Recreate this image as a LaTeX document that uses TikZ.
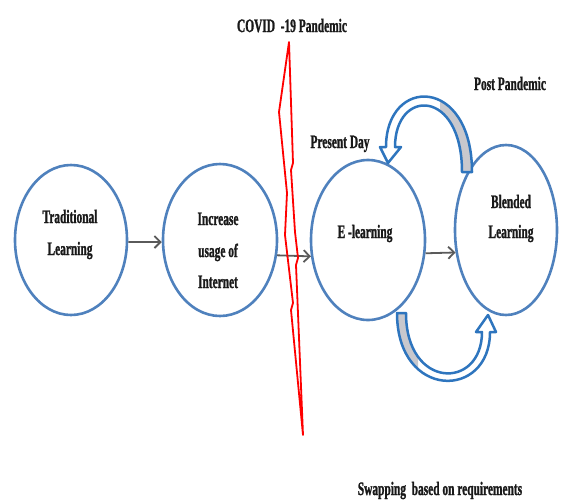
\documentclass[tikz,border=0pt]{standalone}
\usepackage{fontspec}
\setmainfont{Liberation Serif}[FakeStretch=0.6]
\newfontfamily\lblfont{Liberation Serif Bold}[FakeStretch=0.6, FakeBold=1.2]
\usetikzlibrary{shapes.geometric,arrows.meta}
\definecolor{cblue}{RGB}{79,129,189}
\definecolor{ablue}{RGB}{46,117,190}
\definecolor{agray}{RGB}{90,90,90}
\definecolor{shadegray}{RGB}{200,200,205}
\begin{document}
\begin{tikzpicture}[x=1pt,y=-1pt,
  stage/.style={ellipse, draw=cblue, line width=2.6pt, inner sep=0pt},
  lbl/.style={font=\fontsize{19}{32}\lblfont, text=black!90, inner sep=0pt, anchor=base},
  flow/.style={draw=agray, line width=1.8pt, -{Straight Barb[length=6pt,width=12pt]}},
  band/.style={draw=ablue, line width=2.5pt, line join=round},
  bolt/.style={draw=red, line width=1.8pt, line join=round},
]
\useasboundingbox (0,0) rectangle (565,499);

% stages
\node[stage, minimum width=112pt, minimum height=150pt] (trad) at (71,240) {};
\node[stage, minimum width=114pt, minimum height=152pt] (inc) at (220,240) {};
\node[stage, minimum width=114pt, minimum height=160pt] (el) at (368,240) {};
\node[stage, minimum width=102pt, minimum height=170pt] (bl) at (506,230) {};

% texts
\node[lbl] (t1) at (70,223) {Traditional};
\node[lbl] (t2) at (70,255) {Learning};
\node[lbl] (i1) at (218,225) {Increase};
\node[lbl] (i2) at (218,257) {usage of};
\node[lbl] (i3) at (218,288) {Internet};
\node[lbl] (e1) at (365,238) {E -learning};
\node[lbl] (b1) at (511,208) {Blended};
\node[lbl] (b2) at (511,238) {Learning};
\node[lbl] (covid) at (292,32) {COVID\ \ -19 Pandemic};
\node[lbl] (post) at (510,90) {Post Pandemic};
\node[lbl] (present) at (340,148) {Present Day};
\node[lbl] (swap) at (440,495) {Swapping\ \ based on requirements};

% flow arrows
\draw[flow] (trad.-2) -- (inc.182);
\draw[flow] (inc.-15) -- (el.196);
\draw[flow] (el.-13) -- (bl.204);

% lightning
\draw[bolt] (289,42) -- (293,163) -- (291,170) -- (295,232) -- (298,258) -- (296,265)
  -- (303,435) -- (291,310) -- (293,303) -- (285,235) -- (287,193) -- (279,112) -- cycle;

% top curved block arrow (Blended -> E-learning)
\def\toppath{(472,172) .. controls (472,76) and (386,76) .. (386,147) -- (380,147) -- (388,163)
  -- (401,147) -- (395,147) .. controls (395,88) and (462,88) .. (462,172) -- cycle}
\fill[white] \toppath;
\begin{scope}
  \clip (440,60) rectangle (490,180);
  \fill[shadegray] \toppath;
\end{scope}
\draw[band] \toppath;

% bottom curved block arrow (E-learning -> Blended)
\def\botpath{(397,313) .. controls (397,400) and (490,400) .. (490,332) -- (496,332) -- (488,315)
  -- (476,332) -- (482,332) .. controls (482,390) and (406,390) .. (406,313) -- cycle}
\fill[white] \botpath;
\begin{scope}
  \clip (380,300) rectangle (418,372);
  \fill[shadegray] \botpath;
\end{scope}
\draw[band] \botpath;
\end{tikzpicture}
\end{document}
